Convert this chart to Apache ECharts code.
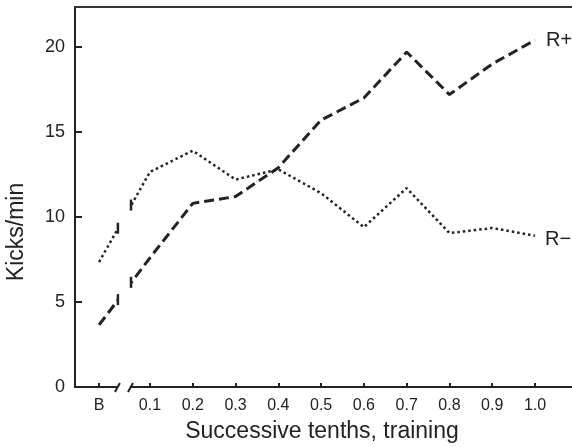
<!DOCTYPE html>
<html><head><meta charset="utf-8">
<script src="https://cdn.jsdelivr.net/npm/echarts@6/dist/echarts.min.js"></script>
<style>html,body{margin:0;padding:0;background:#fff}#c{width:572px;height:447px}</style>
</head><body><div id="c"></div>
<script>
// categories along the x axis and their positions on the (broken) value axis
const categories = ['B', '0.1', '0.2', '0.3', '0.4', '0.5', '0.6', '0.7', '0.8', '0.9', '1.0'];
const categoryX = [-0.019, 0.1, 0.2, 0.3, 0.4, 0.5, 0.6, 0.7, 0.8, 0.9, 1.0];
// series values (kicks/min)
const rPlus = [3.65, 7.6, 10.8, 11.2, 12.9, 15.7, 17.0, 19.7, 17.2, 19.0, 20.4];
const rMinus = [7.35, 12.65, 13.9, 12.2, 12.8, 11.4, 9.4, 11.7, 9.05, 9.35, 8.9];
const yTicks = [0, 5, 10, 15, 20];
const breakRange = [0.025, 0.0556];

const INK = '#222';
const FONT = 'Liberation Sans, Arial, Helvetica, sans-serif';

function labelFor(v) {
  let best = 0, d = Infinity;
  categoryX.forEach((x, i) => { const dd = Math.abs(x - v); if (dd < d) { d = dd; best = i; } });
  return categories[best];
}

const chart = echarts.init(document.getElementById('c'), null, {renderer: 'canvas'});
const xMin = -0.0753, xMax = 1.0865;
const option = {
  animation: false,
  backgroundColor: '#fff',
  textStyle: {fontFamily: FONT},
  grid: {left: 75, right: 0, top: 7, bottom: 60, outerBoundsMode: 'none', containLabel: false},
  xAxis: [{
    type: 'value', min: xMin, max: xMax, position: 'bottom',
    axisLine: {show: true, onZero: false, lineStyle: {color: INK, width: 2}},
    axisTick: {show: true, inside: true, length: 4, customValues: categoryX, lineStyle: {color: INK, width: 2}},
    axisLabel: {show: true, customValues: categoryX, formatter: labelFor, fontSize: 16, color: INK, margin: 11, fontFamily: FONT},
    splitLine: {show: false}
  }, {
    type: 'value', min: xMin, max: xMax, position: 'top',
    axisLine: {show: true, onZero: false, lineStyle: {color: '#333', width: 2}},
    axisTick: {show: false}, axisLabel: {show: false}, splitLine: {show: false}
  }],
  yAxis: {
    type: 'value', min: 0, max: 22.35,
    axisLine: {show: true, onZero: false, lineStyle: {color: INK, width: 2}},
    axisTick: {show: true, inside: true, length: 7, customValues: yTicks, lineStyle: {color: INK, width: 2}},
    axisLabel: {show: true, customValues: yTicks, fontSize: 18, color: INK, margin: 10, fontFamily: FONT},
    splitLine: {show: false}
  },
  series: [{
    type: 'line', name: 'R+', xAxisIndex: 0,
    data: categoryX.map((x, i) => [x, rPlus[i]]),
    symbol: 'none', z: 3,
    lineStyle: {color: INK, width: 3, type: [10, 5]},
    endLabel: {show: true, formatter: '{a}', fontSize: 20, color: INK, offset: [3, 0], fontFamily: FONT}
  }, {
    type: 'line', name: 'R\u2212', xAxisIndex: 0,
    data: categoryX.map((x, i) => [x, rMinus[i]]),
    symbol: 'none', z: 3,
    lineStyle: {color: INK, width: 2.5, type: [2.5, 3]},
    endLabel: {show: true, formatter: '{a}', fontSize: 20, color: INK, offset: [2, 4], fontFamily: FONT}
  }]
};
chart.setOption(option);

// axis break decoration, positioned through the chart's own scales
const p = v => chart.convertToPixel({gridIndex: 0}, v);
const [xl, y0] = p([breakRange[0], 0]);
const [xr] = p([breakRange[1], 0]);
function yOnSeg(vals, x) {
  const a = p([categoryX[0], vals[0]]), b = p([categoryX[1], vals[1]]);
  return a[1] + (x - a[0]) / (b[0] - a[0]) * (b[1] - a[1]);
}
const els = [
  {type: 'rect', z: 100, shape: {x: xl, y: 12, width: xr - xl, height: y0 - 12 + 4}, style: {fill: '#fff'}},
  {type: 'line', z: 101, shape: {x1: xl - 3, y1: y0 + 5, x2: xl + 2, y2: y0 - 4}, style: {stroke: INK, lineWidth: 2}},
  {type: 'line', z: 101, shape: {x1: xr - 3, y1: y0 + 5, x2: xr + 2, y2: y0 - 4}, style: {stroke: INK, lineWidth: 2}}
];
[rPlus, rMinus].forEach(vals => {
  [xl, xr].forEach(x => {
    const y = yOnSeg(vals, x);
    els.push({type: 'line', z: 101, shape: {x1: x, y1: y - 6, x2: x, y2: y + 5}, style: {stroke: INK, lineWidth: 2.5}});
  });
});
els.push({type: 'text', z: 101, x: 322, y: 432, style: {text: 'Successive tenths, training', font: '23px ' + FONT, fill: INK, align: 'center', verticalAlign: 'middle'}});
els.push({type: 'text', z: 101, x: 17, y: 232, rotation: Math.PI / 2, style: {text: 'Kicks/min', font: '23px ' + FONT, fill: INK, align: 'center', verticalAlign: 'middle'}});
chart.setOption({graphic: {elements: els}});
</script>
</body></html>
